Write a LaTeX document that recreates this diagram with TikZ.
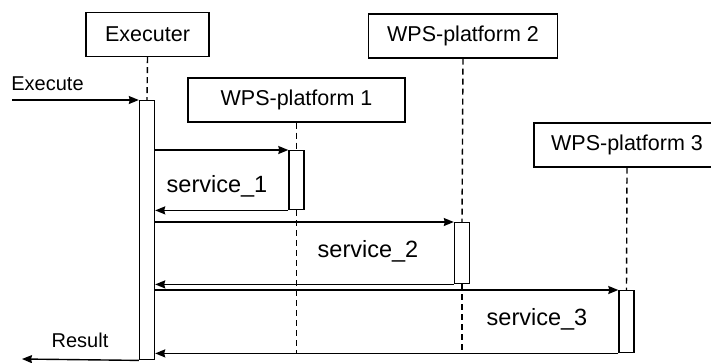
\documentclass[tikz,border=0pt]{standalone}
\usepackage{fontspec}
\setmainfont{Liberation Sans}
\usetikzlibrary{arrows.meta,positioning}

\begin{document}
\begin{tikzpicture}[
    x=1pt, y=-1pt,
    >={Stealth[length=10pt,width=8pt,inset=1pt]},
    actor/.style={rectangle, draw, line width=1.4pt, minimum height=44pt, inner sep=0pt, font=\fontsize{21.5}{25}\selectfont},
    bar/.style={rectangle, draw, fill=white, line width=1.4pt, minimum width=15pt, anchor=north, inner sep=0pt},
    life/.style={line width=1.4pt, dash pattern=on 6pt off 4pt},
    arrow/.style={->, line width=1.4pt},
    msg/.style={anchor=base, inner sep=0pt, font=\fontsize{23.5}{27}\selectfont},
    io/.style={anchor=base, inner sep=0pt, font=\fontsize{20}{24}\selectfont}
]
    \useasboundingbox (0,0) rectangle (711,362);

    % Participants
    \node (exec) [actor, minimum width=123pt] at (147.5,34.5) {Executer};
    \node (p1) [actor, minimum width=217pt] at (296.5,100) {WPS-platform 1};
    \node (p2) [actor, minimum width=189pt] at (463,36) {WPS-platform 2};
    \node (p3) [actor, minimum width=186pt] at (627,145) {WPS-platform 3};

    % Activation bars
    \node (a0) [bar, minimum height=259pt] at (147,100) {};
    \node (a1) [bar, minimum height=59pt] at (296.5,150) {};
    \node (a2) [bar, minimum height=61pt] at (462,222) {};
    \node (a3) [bar, minimum height=62pt] at (626.5,290) {};

    % Lifelines
    \draw [life] (exec.south) -- (a0.north);
    \draw [life] (p1.south) -- (a1.north);
    \draw [life] (a1.south) -- (a1.south |- a3.south);
    \draw [life] (p2.south) -- (a2.north);
    \draw [life] (a2.south) -- (a2.south |- a3.south);
    \draw [life] (p3.south) -- (a3.north);

    % Messages
    \coordinate (start) at (12,100);
    \coordinate (end) at (22,359);
    \draw [arrow] (start) -- (a0.north west);
    \draw [arrow] (a0.east |- a1.north west) -- (a1.north west);
    \draw [arrow] (a1.south west) -- (a0.east |- a1.south west);
    \draw [arrow] (a0.east |- a2.north west) -- (a2.north west);
    \draw [arrow] (a2.south west) -- (a0.east |- a2.south west);
    \draw [arrow] (a0.east |- a3.north west) -- (a3.north west);
    \draw [arrow] (a3.south west) -- (a0.east |- a3.south west);
    \draw [arrow] (a0.south west) -- (end);

    % Labels
    \node (lexec) [io] at (47.5,90) {Execute};
    \node (lres) [io] at (80,347) {Result};
    \node (s1) [msg] at (217,192) {service\_1};
    \node (s2) [msg] at (368,257) {service\_2};
    \node (s3) [msg] at (537,325) {service\_3};

\end{tikzpicture}
\end{document}
